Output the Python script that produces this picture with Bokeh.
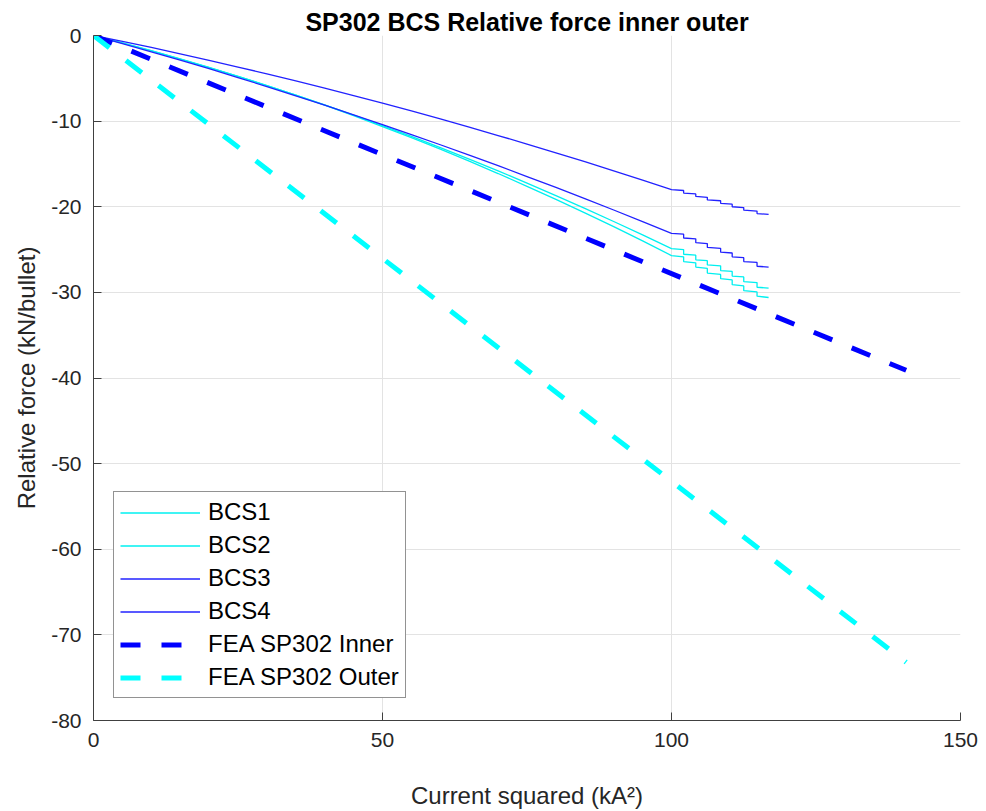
from bokeh.plotting import figure
from bokeh.models import Legend, LegendItem, FixedTicker, Range1d, CustomJSTickFormatter
from bokeh.embed import file_html
from bokeh.resources import INLINE

# ---- data ----
x_bcs = [0, 5, 10, 15, 20, 25, 30, 35, 40, 45, 50, 55, 60, 65, 70, 75, 80, 85, 90, 95,
         100, 102.1, 102.1, 104.2, 104.2, 106.2, 106.2, 108.5,
         108.5, 110.5, 110.5, 112.5, 112.5, 114.8, 114.8, 116.8]

bcs1 = [0, -0.88, -1.80, -2.75, -3.75, -4.78, -5.85, -6.96, -8.11, -9.30,
        -10.53, -11.79, -13.09, -14.43, -15.81, -17.23, -18.69, -20.18, -21.72, -23.29,
        -24.9, -25.0, -25.55, -25.65, -26.2, -26.3, -26.8, -26.9,
        -27.45, -27.55, -28.1, -28.2, -28.75, -28.85, -29.4, -29.5]
bcs2 = [0, -0.86, -1.77, -2.72, -3.72, -4.76, -5.84, -6.97, -8.14, -9.36,
        -10.63, -11.93, -13.28, -14.68, -16.12, -17.61, -19.14, -20.71, -22.33, -23.99,
        -25.7, -25.85, -26.4, -26.55, -27.05, -27.2, -27.75, -27.9,
        -28.4, -28.55, -29.1, -29.25, -29.8, -29.95, -30.45, -30.6]
bcs3 = [0, -0.69, -1.40, -2.14, -2.90, -3.68, -4.48, -5.30, -6.14, -7.01,
        -7.90, -8.81, -9.74, -10.70, -11.68, -12.68, -13.70, -14.74, -15.80, -16.89,
        -18.0, -18.1, -18.4, -18.5, -18.8, -18.9, -19.2, -19.3,
        -19.6, -19.7, -20.0, -20.1, -20.4, -20.5, -20.8, -20.9]
bcs4 = [0, -0.94, -1.90, -2.88, -3.88, -4.92, -5.96, -7.04, -8.14, -9.26,
        -10.40, -11.57, -12.76, -13.97, -15.20, -16.47, -17.74, -19.05, -20.38, -21.73,
        -23.1, -23.2, -23.65, -23.75, -24.2, -24.3, -24.75, -24.85,
        -25.3, -25.4, -25.85, -25.95, -26.4, -26.5, -26.95, -27.05]

x_fea = [0, 140.6]
fea_inner = [0, -39.1]
fea_outer = [0, -73.2]

x_ticks = [0, 50, 100, 150]
y_ticks = [-80, -70, -60, -50, -40, -30, -20, -10, 0]

FONT = "Liberation Sans"
TXT = "#262626"

p = figure(width=983, height=811, output_backend="svg", toolbar_location=None,
           x_range=Range1d(0, 150), y_range=Range1d(-80, 0),
           min_border_left=93, min_border_right=23, min_border_top=35,
           min_border_bottom=91, background_fill_color="white",
           border_fill_color="white")
p.outline_line_color = None

p.title.text = "SP302 BCS Relative force inner outer"
p.title.text_font = FONT
p.title.text_font_size = "25px"
p.title.text_font_style = "bold"
p.title.text_color = "black"
p.title.align = "center"
p.title.standoff = 0
p.title.offset = 0

fmt = CustomJSTickFormatter(code="return tick.toString();")
for ax in (p.xaxis[0], p.yaxis[0]):
    ax.formatter = fmt
    ax.major_label_text_font = FONT
    ax.major_label_text_font_size = "21px"
    ax.major_label_text_color = TXT
    ax.axis_label_text_font = FONT
    ax.axis_label_text_font_size = "24px"
    ax.axis_label_text_font_style = "normal"
    ax.axis_label_text_color = TXT
    ax.axis_line_color = "#404040"
    ax.major_tick_line_color = "#404040"
    ax.major_tick_in = 8
    ax.major_tick_out = 0
    ax.minor_tick_line_color = None
    ax.major_label_standoff = 12

p.xaxis.ticker = FixedTicker(ticks=x_ticks)
p.yaxis.ticker = FixedTicker(ticks=y_ticks)
p.xaxis.axis_label = "Current squared (kA²)"
p.yaxis.axis_label = "Relative force (kN/bullet)"
p.xaxis.axis_label_standoff = 32
p.yaxis.axis_label_standoff = 8

p.grid.grid_line_color = "#E3E3E3"
p.grid.grid_line_width = 1

r1 = p.line(x_bcs, bcs1, line_color="#00F0F0", line_width=1.3)
r2 = p.line(x_bcs, bcs2, line_color="#00F0F0", line_width=1.3)
r3 = p.line(x_bcs, bcs3, line_color="#2222FF", line_width=1.3)
r4 = p.line(x_bcs, bcs4, line_color="#2222FF", line_width=1.3)
r5 = p.line(x_fea, fea_inner, line_color="#0000FF", line_width=5, line_dash="20 21")
r6 = p.line(x_fea, fea_outer, line_color="#00FFFF", line_width=5, line_dash="20 21")

legend = Legend(items=[
    LegendItem(label="BCS1", renderers=[r1]),
    LegendItem(label="BCS2", renderers=[r2]),
    LegendItem(label="BCS3", renderers=[r3]),
    LegendItem(label="BCS4", renderers=[r4]),
    LegendItem(label="FEA SP302 Inner", renderers=[r5]),
    LegendItem(label="FEA SP302 Outer", renderers=[r6]),
], location=(20, 22))
legend.label_text_font = FONT
legend.label_text_font_size = "24px"
legend.label_text_color = "black"
legend.glyph_width = 80
legend.glyph_height = 27
legend.label_height = 27
legend.spacing = 5
legend.padding = 6
legend.margin = 0
legend.label_standoff = 8
legend.border_line_color = "#262626"
legend.border_line_width = 1
legend.background_fill_color = "white"
legend.background_fill_alpha = 1
p.add_layout(legend, "center")

open("out.html", "w").write(file_html(p, INLINE))
